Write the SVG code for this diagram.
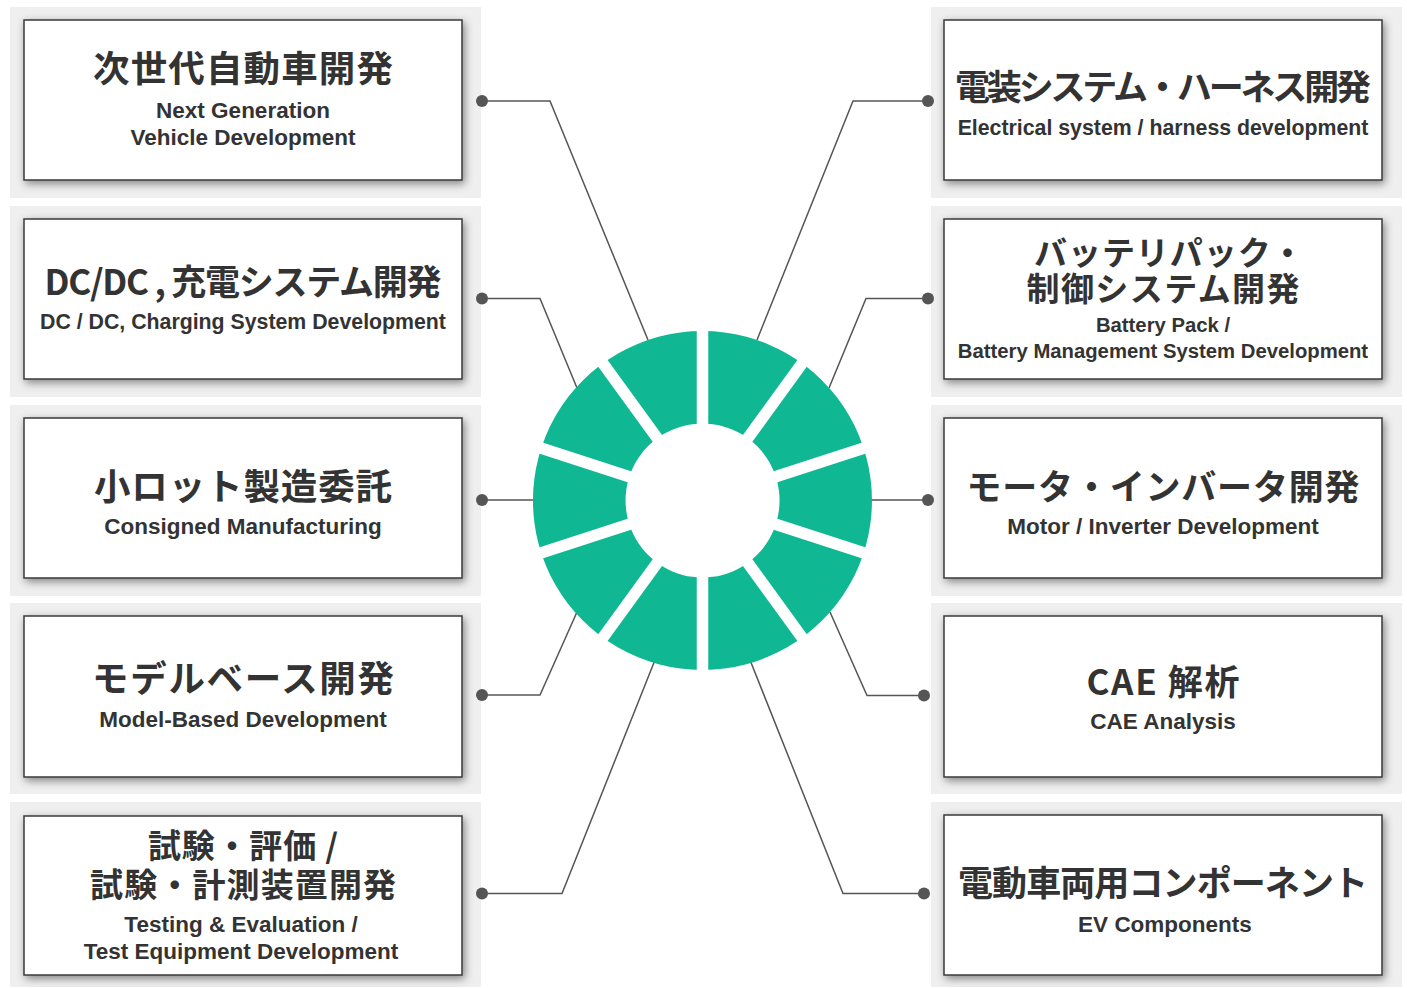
<svg xmlns="http://www.w3.org/2000/svg" width="1407" height="988" viewBox="0 0 1407 988">
<style>
.panel{fill:#efefef}
.box{fill:#fff;stroke:#3a3a3a;stroke-width:1.5;filter:url(#sh)}
.jp{font-family:"Noto Sans CJK JP","Noto Sans",sans-serif;font-weight:700;font-size:35px;fill:#333;text-anchor:middle}
.jp2{font-size:33px}
.jpl{font-size:36.5px}
.en{font-family:"Liberation Sans",Arial,sans-serif;font-weight:700;font-size:22.5px;fill:#333;text-anchor:middle}
.conn path{fill:none;stroke:#555;stroke-width:1.5}
.conn circle{fill:#555}
</style>
<defs>
<filter id="sh" x="-10%" y="-20%" width="120%" height="145%">
<feDropShadow dx="2" dy="3" stdDeviation="4" flood-color="#000" flood-opacity="0.45"/>
</filter>
<mask id="gaps" maskUnits="userSpaceOnUse" x="0" y="0" width="1407" height="988">
<rect x="0" y="0" width="1407" height="988" fill="#fff"/>
<g stroke="#000" stroke-width="11.5" transform="translate(702.5 500.5)">
<line x1="0" y1="-200" x2="0" y2="200"/>
<line x1="0" y1="-200" x2="0" y2="200" transform="rotate(36)"/>
<line x1="0" y1="-200" x2="0" y2="200" transform="rotate(72)"/>
<line x1="0" y1="-200" x2="0" y2="200" transform="rotate(108)"/>
<line x1="0" y1="-200" x2="0" y2="200" transform="rotate(144)"/>
</g>
</mask>
</defs>
<rect width="1407" height="988" fill="#fff"/>

<g id="n-next-gen">
<rect class="panel" x="10" y="7" width="471" height="191"/>
<rect class="box" x="24" y="20" width="438" height="160"/>
<text class="jp jpl" x="243" y="82" textLength="300" lengthAdjust="spacing">次世代自動車開発</text>
<text class="en" x="243" y="118">Next Generation</text>
<text class="en" x="243" y="145">Vehicle Development</text>
</g>

<g id="n-dcdc">
<rect class="panel" x="10" y="206" width="471" height="191"/>
<rect class="box" x="24" y="219" width="438" height="160"/>
<text class="jp" x="243" y="295" textLength="397" lengthAdjust="spacing">DC/DC , 充電システム開発</text>
<text class="en" x="243" y="329" style="font-size:21.3px">DC / DC, Charging System Development</text>
</g>

<g id="n-consigned">
<rect class="panel" x="10" y="405" width="471" height="191"/>
<rect class="box" x="24" y="418" width="438" height="160"/>
<text class="jp jpl" x="243" y="500" textLength="298" lengthAdjust="spacing">小ロット製造委託</text>
<text class="en" x="243" y="534">Consigned Manufacturing</text>
</g>

<g id="n-mbd">
<rect class="panel" x="10" y="603" width="471" height="191"/>
<rect class="box" x="24" y="616" width="438" height="161"/>
<text class="jp jpl" x="243" y="692" textLength="302" lengthAdjust="spacing">モデルベース開発</text>
<text class="en" x="243" y="727">Model-Based Development</text>
</g>

<g id="n-testing">
<rect class="panel" x="10" y="802" width="471" height="185"/>
<rect class="box" x="24" y="816" width="438" height="159"/>
<text class="jp jp2"><tspan x="243" y="858" textLength="190" lengthAdjust="spacing">試験・評価 /</tspan><tspan x="243" y="897" textLength="306" lengthAdjust="spacing">試験・計測装置開発</tspan></text>
<text class="en" x="241" y="932">Testing &amp; Evaluation /</text>
<text class="en" x="241" y="959">Test Equipment Development</text>
</g>

<g id="n-electrical">
<rect class="panel" x="931" y="7" width="471" height="191"/>
<rect class="box" x="944" y="20" width="438" height="160"/>
<text class="jp" x="1163" y="100" textLength="416" lengthAdjust="spacing">電装システム・ハーネス開発</text>
<text class="en" x="1163" y="135" style="font-size:21.3px">Electrical system / harness development</text>
</g>

<g id="n-battery">
<rect class="panel" x="931" y="206" width="471" height="191"/>
<rect class="box" x="944" y="219" width="438" height="160"/>
<text class="jp jp2"><tspan x="1169" y="265" textLength="270" lengthAdjust="spacing">バッテリパック・</tspan><tspan x="1163" y="301" textLength="273" lengthAdjust="spacing">制御システム開発</tspan></text>
<text class="en" x="1163" y="332" style="font-size:20.3px">Battery Pack /</text>
<text class="en" x="1163" y="358" style="font-size:20.3px">Battery Management System Development</text>
</g>

<g id="n-motor">
<rect class="panel" x="931" y="405" width="471" height="191"/>
<rect class="box" x="944" y="418" width="438" height="160"/>
<text class="jp" x="1163" y="500" textLength="393" lengthAdjust="spacing">モータ・インバータ開発</text>
<text class="en" x="1163" y="534">Motor / Inverter Development</text>
</g>

<g id="n-cae">
<rect class="panel" x="931" y="603" width="471" height="191"/>
<rect class="box" x="944" y="616" width="438" height="161"/>
<text class="jp" x="1163" y="695" textLength="153" lengthAdjust="spacing">CAE 解析</text>
<text class="en" x="1163" y="729">CAE Analysis</text>
</g>

<g id="n-ev">
<rect class="panel" x="931" y="802" width="471" height="185"/>
<rect class="box" x="944" y="815" width="438" height="160"/>
<text class="jp" x="1163" y="896" textLength="410" lengthAdjust="spacing">電動車両用コンポーネント</text>
<text class="en" x="1165" y="932">EV Components</text>
</g>

<g class="conn" id="connectors">
<path d="M482,101 H550 L648,340"/>
<path d="M482,298.5 H540 L577,388"/>
<path d="M482,500 H540"/>
<path d="M482,695 H540 L577,612"/>
<path d="M482,893.5 H562 L655,660"/>
<path d="M928,101 H853 L757,340"/>
<path d="M928,298.5 H866 L829,388"/>
<path d="M928,500 H866"/>
<path d="M924,695.5 H867 L830,612"/>
<path d="M924,893.5 H843 L750,660"/>
<circle cx="482" cy="101" r="6"/>
<circle cx="482" cy="298.5" r="6"/>
<circle cx="482" cy="500" r="6"/>
<circle cx="482" cy="695" r="6"/>
<circle cx="482" cy="893.5" r="6"/>
<circle cx="928" cy="101" r="6"/>
<circle cx="928" cy="298.5" r="6"/>
<circle cx="928" cy="500" r="6"/>
<circle cx="924" cy="695.5" r="6"/>
<circle cx="924" cy="893.5" r="6"/>
</g>

<g id="ring">
<path mask="url(#gaps)" fill="#0fb793" fill-rule="evenodd" d="M702.5,331 A169.5,169.5 0 1 1 702.4,331 Z M702.5,423.5 A77,77 0 1 0 702.6,423.5 Z"/>
</g>
</svg>
